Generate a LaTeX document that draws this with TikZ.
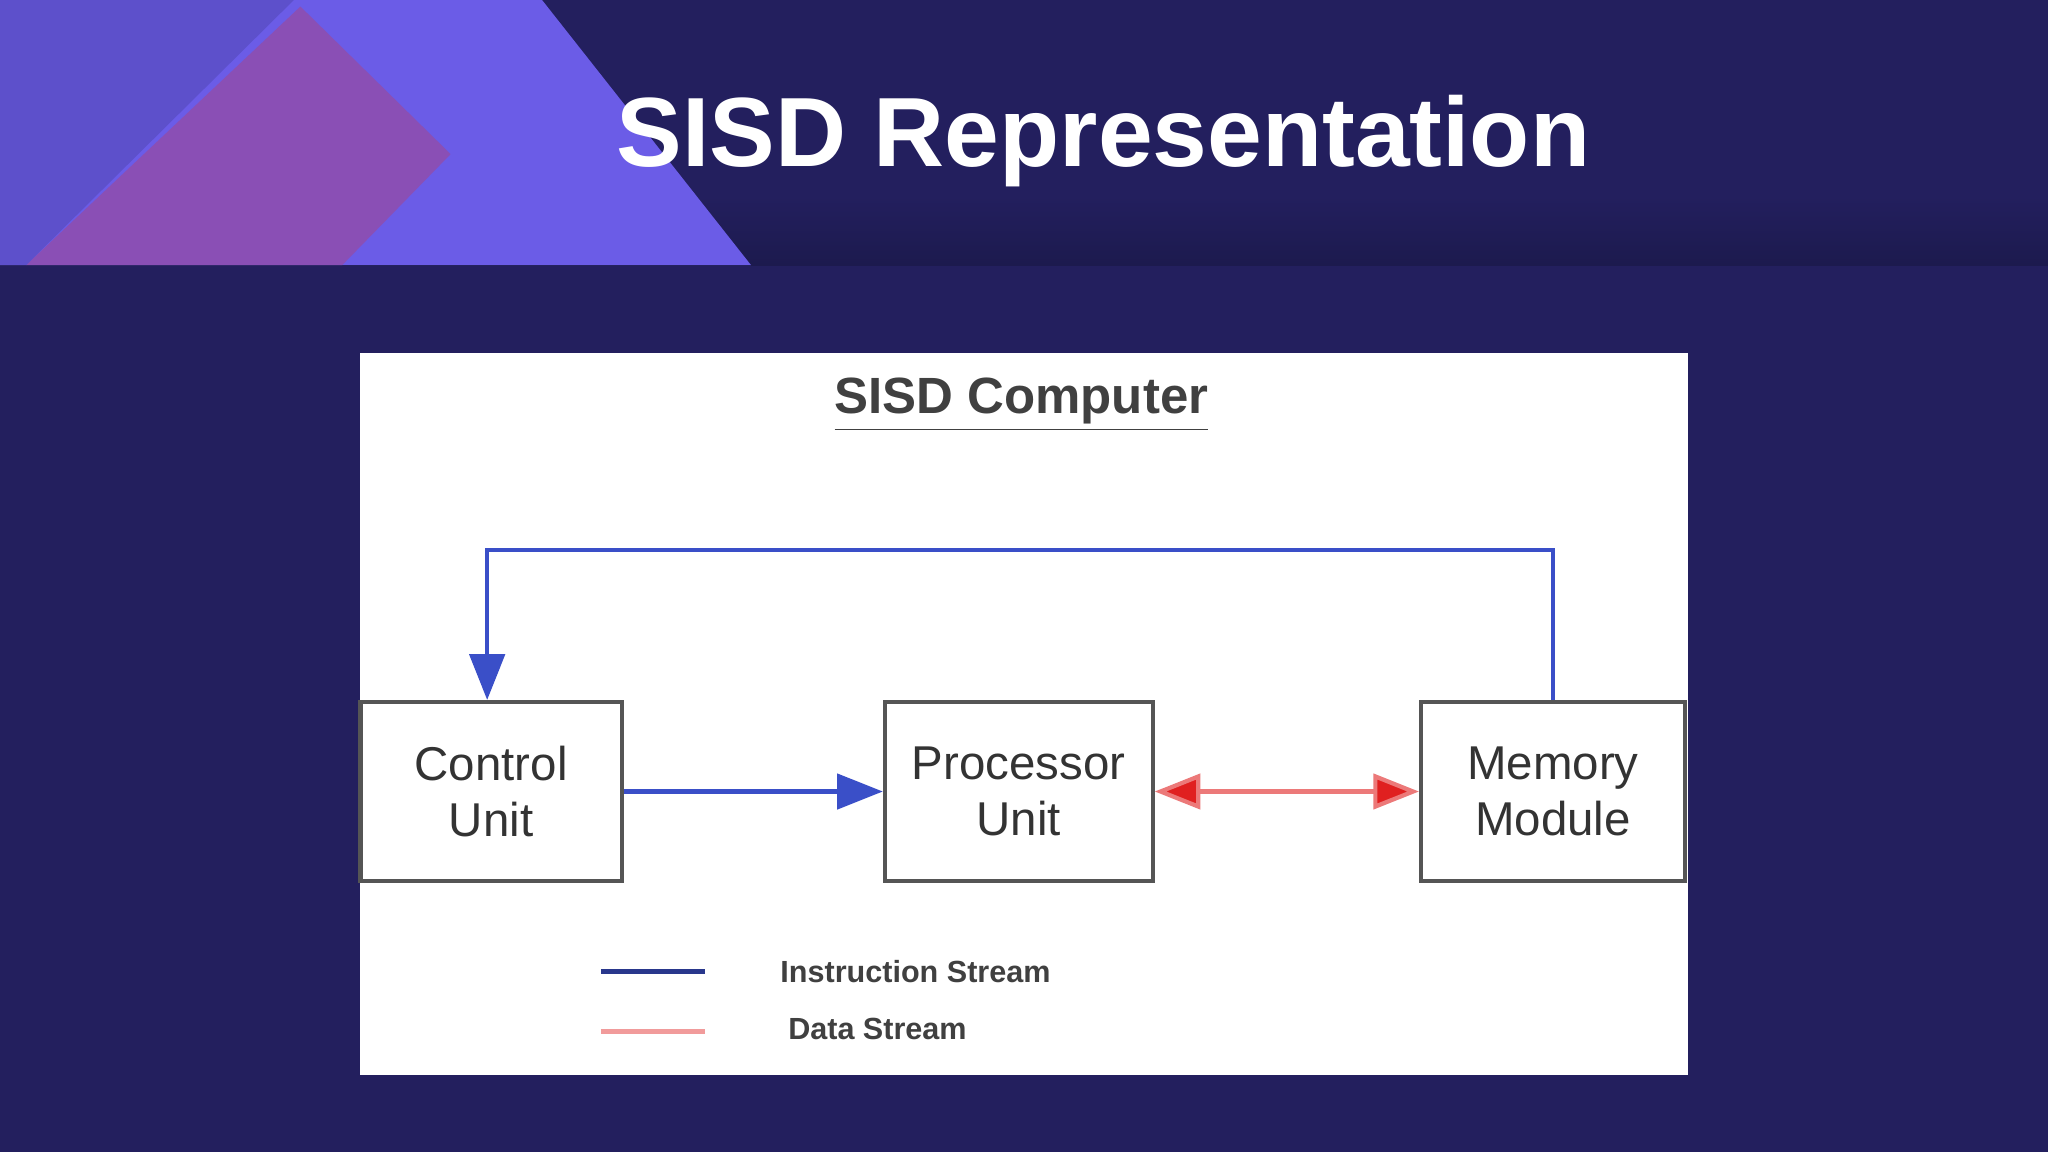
\documentclass[tikz,border=0pt]{standalone}
\usepackage{fontspec}
\setmainfont{Liberation Sans}
\usetikzlibrary{arrows.meta}
\definecolor{navy}{HTML}{231F5E}
\definecolor{navydark}{HTML}{1C1A4E}
\definecolor{lilac}{HTML}{6B5CE7}
\definecolor{plum}{HTML}{8A4FB5}
\definecolor{boxgray}{HTML}{555555}
\definecolor{instr}{HTML}{3A4FC8}
\definecolor{datar}{HTML}{E02020}
\tikzset{
  unitbox/.style={draw=boxgray, line width=1.2pt, fill=white, minimum width=200*\px, minimum height=137*\px, align=center, font=\fontsize{13.5}{16}\selectfont, text=black!80},
  instrline/.style={draw=instr, line width=1.2pt},
  dataline/.style={draw=datar!60, line width=1.2pt},
  legendtext/.style={font=\bfseries\fontsize{8.7}{11}\selectfont, text=black!75, anchor=west}
}
\newlength{\px}
\setlength{\px}{0.013061cm}
\begin{document}
\begin{tikzpicture}[x=0.013061cm, y=-0.013061cm]
    \useasboundingbox (0,0) rectangle (1568,882);
    % background and banner
    \fill[navy] (0,0) rectangle (1568,882);
    \shade[top color=navy, bottom color=navydark] (0,150) rectangle (1568,203);
    \fill[lilac] (0,0) -- (415,0) -- (575,203) -- (0,203) -- cycle;
    \fill[plum] (20,203) -- (230,5) -- (345,118) -- (262,203) -- cycle;
    \fill[lilac!80!navy] (0,0) -- (225,0) -- (20,203) -- (0,203) -- cycle;
    \node[text=white, font=\bfseries\fontsize{28}{33}\selectfont] (title) at (845,108) {SISD Representation};
    % panel
    \fill[white] (276,270) rectangle (1292,823);
    \node[font=\bfseries\fontsize{14.5}{17}\selectfont, text=black!75] (head) at (782,310) {\underline{SISD Computer}};
    % units
    \node[unitbox] (cu) at (376,606) {Control\\Unit};
    \node[unitbox, minimum width=205*\px] (pu) at (780,606) {Processor\\Unit};
    \node[unitbox, minimum width=202*\px] (mm) at (1189,606) {Memory\\Module};
    % streams
    \draw[instrline, -{Triangle[length=13pt, width=10pt]}] (mm.north) -- ++(0,-115) -| ([xshift=-3*\px]cu.north);
    \draw[instrline, -{Triangle[length=13pt, width=10pt]}] (cu.east) -- (pu.west);
    \draw[dataline, {Triangle[length=13pt, width=10pt, fill=datar]}-{Triangle[length=13pt, width=10pt, fill=datar]}] (pu.east) -- (mm.west);
    % legend
    \coordinate (l1a) at (460,744);
    \coordinate (l1b) at (540,744);
    \coordinate (l2a) at (460,790);
    \coordinate (l2b) at (540,790);
    \draw[draw=instr!70!black, line width=1.5pt] (l1a) -- (l1b);
    \draw[draw=datar!45, line width=1.5pt] (l2a) -- (l2b);
    \node[legendtext] (lt1) at (588,744) {Instruction Stream};
    \node[legendtext] (lt2) at (594,788) {Data Stream};
\end{tikzpicture}
\end{document}
